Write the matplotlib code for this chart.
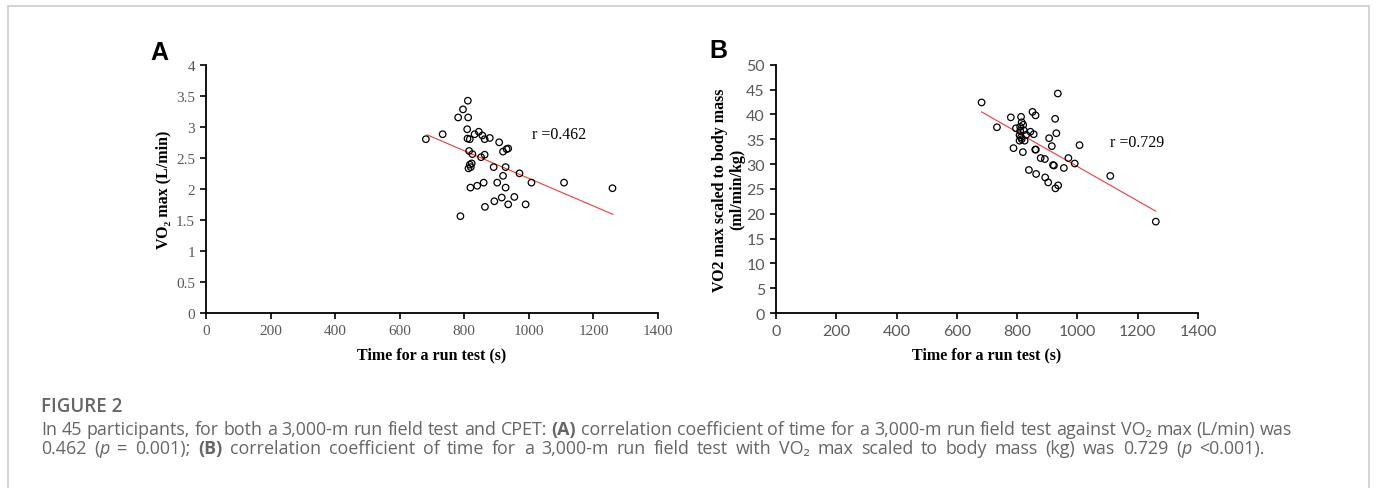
import re
import numpy as np
import matplotlib
matplotlib.use("Agg")
import matplotlib.pyplot as plt
from matplotlib.patches import Rectangle

# ---- data ----
time_a = [681, 733, 781, 796, 811, 812, 809, 810, 817, 815, 825, 832, 845, 856, 863,
          879, 908, 920, 931, 936, 852, 863, 823, 817, 813, 820, 891, 928, 971, 920,
          1008, 1109, 1259, 819, 840, 860, 902, 928, 916, 955, 893, 936, 990, 864, 788]
vo2_a = [2.80, 2.88, 3.15, 3.28, 3.42, 3.15, 2.96, 2.81, 2.80, 2.61, 2.56, 2.88, 2.92, 2.86, 2.80,
         2.82, 2.75, 2.60, 2.64, 2.65, 2.51, 2.55, 2.41, 2.39, 2.33, 2.35, 2.35, 2.35, 2.25, 2.21,
         2.10, 2.10, 2.01, 2.02, 2.05, 2.10, 2.10, 2.02, 1.86, 1.87, 1.80, 1.75, 1.75, 1.71, 1.56]

time_b = [682, 733, 779, 796, 788, 813, 815, 820, 810, 810, 808, 813, 808, 825, 830,
          819, 844, 855, 851, 861, 860, 862, 839, 863, 878, 892, 906, 915, 926, 930,
          935, 919, 922, 893, 903, 927, 936, 955, 970, 991, 1007, 1109, 1260, 815, 822]
vo2_b = [42.4, 37.4, 39.4, 37.2, 33.2, 39.5, 38.4, 37.9, 37.5, 36.7, 35.8, 35.4, 34.7, 34.7, 35.9,
         32.4, 36.5, 36.0, 40.5, 39.8, 32.9, 32.9, 28.8, 28.0, 31.2, 31.0, 35.2, 33.6, 39.1, 36.2,
         44.2, 29.8, 29.7, 27.3, 26.3, 25.1, 25.7, 29.2, 31.2, 30.1, 33.8, 27.6, 18.4, 35.0, 36.8]

# trend lines as drawn in the reference (end points)
fit_x_a = [685, 1260]
fit_y_a = [2.87, 1.59]
fit_x_b = [682, 1260]
fit_y_b = [40.5, 20.5]

xticks = np.arange(0, 1401, 200)
yticks_a = np.arange(0, 4.01, 0.5)
yticks_b = np.arange(0, 51, 5)

serif = ["Liberation Serif", "DejaVu Serif"]
sans_tick = ["Lato", "DejaVu Sans"]
cap_font = ["Open Sans", "DejaVu Sans"]
tick_col = "#595959"

fig = plt.figure(figsize=(13.77, 4.89), dpi=100)

# outer frame of the figure panel
fig.patches.append(Rectangle((8 / 1377, -0.1), 1361 / 1377, 1.1 - 7 / 489,
                             transform=fig.transFigure, fill=False,
                             edgecolor="#cccccc", linewidth=1.2))

ax1 = fig.add_axes([206 / 1377, 1 - 314 / 489, 452 / 1377, (314 - 65.7) / 489])
ax2 = fig.add_axes([776 / 1377, 1 - 314 / 489, 422 / 1377, (314 - 65.7) / 489])


def style_axes(ax, yticks, tick_family, tick_size, ylim):
    ax.set_xlim(0, 1400)
    ax.set_ylim(*ylim)
    ax.set_xticks(xticks)
    ax.set_yticks(yticks)
    ax.set_xticklabels([str(int(v)) for v in xticks], family=tick_family,
                       fontsize=tick_size, color=tick_col)
    labels = []
    for v in yticks:
        labels.append(str(int(v)) if float(v).is_integer() else str(v))
    ax.set_yticklabels(labels, family=tick_family, fontsize=tick_size, color=tick_col)
    for s in ["top", "right"]:
        ax.spines[s].set_visible(False)
    for s in ["left", "bottom"]:
        ax.spines[s].set_linewidth(1.3)
    ax.tick_params(length=4, width=1.2, pad=4)
    ax.set_xlabel("Time for a run test (s)", family=serif, fontsize=11.5,
                  fontweight="bold")
    ax.xaxis.set_label_coords(0.5, -0.135)


# panel A
ax1.scatter(time_a, vo2_a, s=22, facecolors="none", edgecolors="black",
            linewidths=0.9, zorder=3)
ax1.plot(fit_x_a, fit_y_a, color="#f03c3c", linewidth=0.8)
style_axes(ax1, yticks_a, serif, 11, (0, 4))
ax1.set_ylabel("VO\u2082 max (L/min)", family=serif, fontsize=11.5,
               fontweight="bold")
ax1.yaxis.set_label_coords(-0.077, 0.5)
ax1.text(1010, 2.88, "r =0.462", family=serif, fontsize=11.5, va="center")
fig.text(159 / 1377, 1 - 53 / 489, "A", family=["Liberation Sans"],
         fontsize=18, fontweight="bold", ha="center", va="center")

# panel B
ax2.scatter(time_b, vo2_b, s=22, facecolors="none", edgecolors="black",
            linewidths=0.9, zorder=3)
ax2.plot(fit_x_b, fit_y_b, color="#f03c3c", linewidth=0.8)
style_axes(ax2, yticks_b, sans_tick, 11.5, (0, 50))
ax2.set_ylabel("VO2 max scaled to body mass\n(ml/min/kg)", family=serif,
               fontsize=11.5, fontweight="bold", linespacing=1.1)
ax2.yaxis.set_label_coords(-0.074, 0.5)
ax2.text(1108, 34.4, "r =0.729", family=serif, fontsize=11.5, va="center")
fig.text(718 / 1377, 1 - 51 / 489, "B", family=["Liberation Sans"],
         fontsize=18, fontweight="bold", ha="center", va="center")

# caption
cap_col = "#666666"
cap_size = 12.9
fig.text(41 / 1377, 1 - 407 / 489, "FIGURE 2", family=cap_font, fontsize=13.5,
         fontweight="semibold", color=cap_col, va="center")

renderer = fig.canvas.get_renderer()


def draw_runs(x0, y, runs, gap=0.0):
    # place styled pieces one after another; gap = extra px after each space
    x = x0
    for txt, weight, style in runs:
        for tok in re.findall(r"\S+|\s+", txt):
            t = fig.text(x / 1377, 1 - y / 489, tok, family=cap_font, fontsize=cap_size,
                         fontweight=weight, fontstyle=style, color=cap_col, va="center")
            x += t.get_window_extent(renderer=renderer).width
            if tok.isspace():
                x += gap * len(tok)


draw_runs(41, 430, [
    ("In 45 participants, for both a 3,000-m run field test and CPET: ", "normal", "normal"),
    ("(A)", "bold", "normal"),
    (" correlation coefficient of time for a 3,000-m run field test against VO\u2082 max (L/min) was",
     "normal", "normal"),
])
draw_runs(41, 449, [
    ("0.462 (", "normal", "normal"),
    ("p", "normal", "italic"),
    (" = 0.001); ", "normal", "normal"),
    ("(B)", "bold", "normal"),
    (" correlation coefficient of time for a 3,000-m run field test with VO\u2082 max scaled to body mass (kg) was 0.729 (",
     "normal", "normal"),
    ("p", "normal", "italic"),
    (" <0.001).", "normal", "normal"),
], gap=3.0)

fig.savefig("out.png", dpi=100)
